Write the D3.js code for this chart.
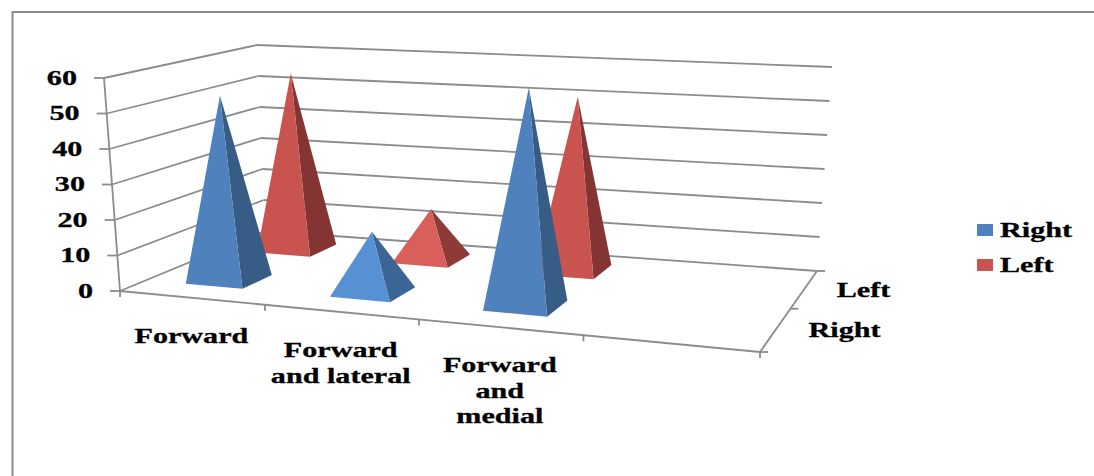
<!DOCTYPE html>
<html>
<head>
<meta charset="utf-8">
<style>
	body { margin: 0; background: #fff; }
	text { font-family: "Liberation Serif", serif; font-weight: bold; font-size: 22px; fill: #000; stroke: #000; stroke-width: 0.3px; }
</style>
</head>
<body>
<div id="chart-area"></div>
<script src="https://cdn.jsdelivr.net/npm/d3@7"></script>
<script>
const WIDTH = 1094;
const HEIGHT = 476;
const TEXT_STRETCH = 1.37;

// values
const categories = ["Forward", "Forward and lateral", "Forward and medial", ""];
const categoryLines = [["Forward"], ["Forward", "and lateral"], ["Forward", "and", "medial"], []];
const seriesNames = ["Right", "Left"];
const rightValues = [53, 17, 60];
const leftValues = [54, 15, 51];
const yTicks = [0, 10, 20, 30, 40, 50, 60];

const frontColors = { Right: "#4f81bd", Left: "#c9544f" };
const sideColors = { Right: "#375d87", Left: "#843533" };
const frontColorsLow = { Right: "#5890d4", Left: "#d95f5b" };
const sideColorsLow = { Right: "#3a6595", Left: "#8e3b38" };

// corners of the floor as they land on the page: front left, front right, back right, back left
const floorCorners = [[120, 291], [760, 352], [817, 271], [265, 231]];
// how far the top of the box sits from the floor at those corners: [dx, height]
const boxLift = [[-16, 213], [13, 233], [15, 204], [-8, 186]];

// square to quad homography
const makeHomography = (q) => {
	const [[x0, y0], [x1, y1], [x2, y2], [x3, y3]] = q;
	const dx1 = x1 - x2, dx2 = x3 - x2, sx = x0 - x1 + x2 - x3;
	const dy1 = y1 - y2, dy2 = y3 - y2, sy = y0 - y1 + y2 - y3;
	const det = dx1 * dy2 - dx2 * dy1;
	const g = (sx * dy2 - dx2 * sy) / det;
	const h = (dx1 * sy - sx * dy1) / det;
	const a = x1 - x0 + g * x1, b = x3 - x0 + h * x3;
	const d = y1 - y0 + g * y1, e = y3 - y0 + h * y3;
	return (u, v) => {
		const w = g * u + h * v + 1;
		return [(a * u + b * v + x0) / w, (d * u + e * v + y0) / w];
	};
};

const bilinear = (q, u, v) => d3.interpolateArray(
	d3.interpolateArray(q[0], q[1])(u),
	d3.interpolateArray(q[3], q[2])(u)
)(v);

const homography = makeHomography(floorCorners);
// the chart's perspective is a bit flatter than the pure homography
const floorMap = (u, v) => d3.interpolateArray(homography(u, v), bilinear(floorCorners, u, v))(0.3);

const x = d3.scaleBand().domain(categories).range([-0.004, 0.996]).paddingInner(0.6).paddingOuter(0.3);
const xAxisPos = d3.scaleBand().domain(categories).range([0, 1]);
const z = d3.scaleBand().domain(seriesNames).range([0.02, 1.02]).paddingInner(0.58).paddingOuter(0.29);
const zAxisPos = d3.scaleBand().domain(seriesNames).range([0.03, 1.03]);
const y = d3.scaleLinear().domain([0, 60]).range([0, 1]);

// u along categories, v into the depth, val along the value axis
const project = (u, v, val) => {
	const p = floorMap(u, v);
	const lift = bilinear(boxLift, u, v);
	return [p[0] + lift[0] * y(val), p[1] - lift[1] * y(val)];
};

const svg = d3.select("#chart-area").append("svg")
	.attr("width", WIDTH)
	.attr("height", HEIGHT)
	.style("display", "block");

const gridColor = "#8c8c8c";
const addLine = (a, b, width) => svg.append("line")
	.attr("x1", a[0]).attr("y1", a[1])
	.attr("x2", b[0]).attr("y2", b[1])
	.attr("stroke", gridColor)
	.attr("stroke-width", width || 1.8);

const addText = (str, px, py, anchor) => {
	svg.append("text")
		.attr("transform", `translate(${px}, ${py}) scale(${TEXT_STRETCH}, 1)`)
		.attr("text-anchor", anchor || "start")
		.text(str);
};

// outer frame, only top and left show
addLine([12.5, 12], [WIDTH, 12], 2);
addLine([12.5, 11], [12.5, HEIGHT], 2);

// walls
yTicks.forEach(t => {
	const front = project(0, 0, t);
	const back = project(0, 1, t);
	addLine(front, back);
	addLine(back, project(1, 1, t));
	addLine(front, [front[0] - 10, front[1]]);
	addText(t, front[0] - 27, front[1] + 6.5, "end");
});
addLine(project(0, 0, 0), project(0, 0, 60));

// floor edges and ticks
addLine(floorMap(0, 0), floorMap(1, 0));
addLine(floorMap(1, 0), floorMap(1, 1));
d3.range(5).forEach(i => {
	const p = floorMap(i / 4, 0);
	addLine(p, [p[0], p[1] + 6]);
});
d3.range(3).forEach(i => {
	const p = floorMap(1, i / 2);
	addLine(p, [p[0] + 8, p[1]]);
});

// category labels
categories.forEach((c, i) => {
	const p = floorMap(xAxisPos(c) + xAxisPos.bandwidth() / 2, 0);
	categoryLines[i].forEach((line, j) => {
		addText(line, p[0], p[1] + 45 + j * 25.5, "middle");
	});
});

// depth labels
seriesNames.forEach(s => {
	const p = floorMap(1, zAxisPos(s) + zAxisPos.bandwidth() / 2);
	addText(s, p[0] + 31, p[1] + 10);
});

// pyramids, back row first
const pyramids = [];
[["Left", leftValues], ["Right", rightValues]].forEach(([s, values]) => {
	values.forEach((value, i) => pyramids.push({ series: s, category: categories[i], value }));
});

const line = d3.line();
const pyramid = svg.selectAll(".pyramid")
	.data(pyramids)
	.enter().append("g")
	.attr("class", "pyramid");

const corners = d => {
	const u0 = x(d.category), u1 = u0 + x.bandwidth();
	const v0 = z(d.series), v1 = v0 + z.bandwidth();
	return {
		fl: project(u0, v0, 0),
		fr: project(u1, v0, 0),
		br: project(u1, v1, 0),
		apex: project((u0 + u1) / 2, (v0 + v1) / 2, d.value)
	};
};

pyramid.append("path")
	.attr("d", d => { const c = corners(d); return line([c.fr, c.br, c.apex]) + "Z"; })
	.attr("fill", d => (d.value < 25 ? sideColorsLow : sideColors)[d.series]);

pyramid.append("path")
	.attr("d", d => { const c = corners(d); return line([c.fl, c.fr, c.apex]) + "Z"; })
	.attr("fill", d => (d.value < 25 ? frontColorsLow : frontColors)[d.series]);

// legend
const legend = svg.selectAll(".legend")
	.data(seriesNames)
	.enter().append("g")
	.attr("class", "legend")
	.attr("transform", (d, i) => `translate(977, ${224 + i * 35})`);

legend.append("rect")
	.attr("width", 16)
	.attr("height", 12)
	.attr("fill", d => frontColors[d]);

legend.append("text")
	.attr("transform", `translate(23, 13) scale(${TEXT_STRETCH}, 1)`)
	.text(d => d);
</script>
</body>
</html>
